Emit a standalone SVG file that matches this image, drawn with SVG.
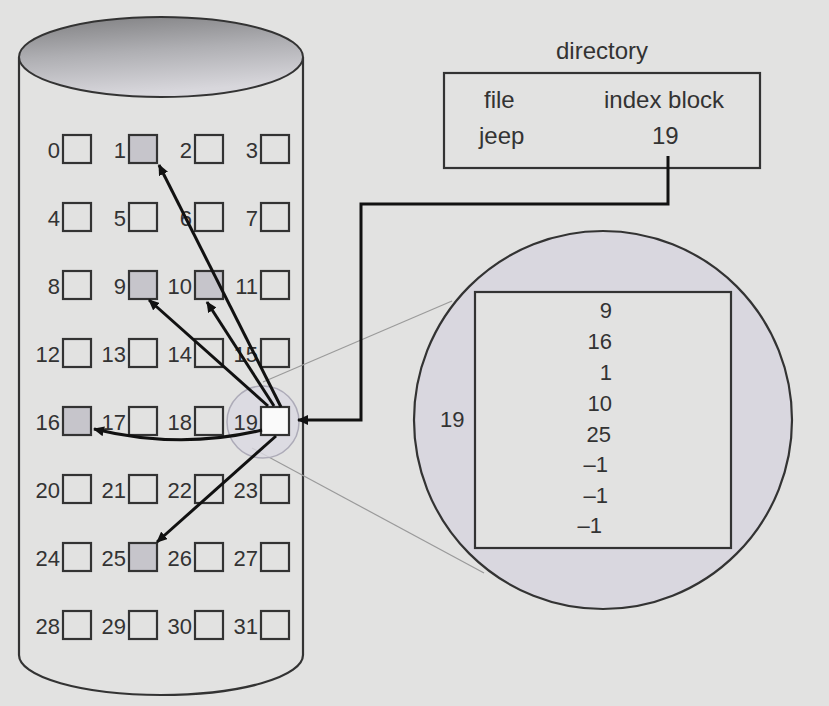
<svg xmlns="http://www.w3.org/2000/svg" width="829" height="706" viewBox="0 0 829 706">
<style>
text{font-family:"Liberation Sans",Arial,sans-serif;fill:#333;}
.lbl{font-size:22px;text-anchor:end;}
.blk{fill:none;stroke:#333;stroke-width:2.2;}
.used{fill:#c6c5cb;stroke:#333;stroke-width:2.2;}
.arr{fill:none;stroke:#111;stroke-width:3;marker-end:url(#ah);}
.dir{font-size:24px;}
.idx{font-size:22px;text-anchor:end;}
.idl{font-size:22px;}
</style>
<defs>
<marker id="ah" markerWidth="12" markerHeight="10" refX="10" refY="5" orient="auto" markerUnits="userSpaceOnUse">
<path d="M0,0 L11,5 L0,10 Z" fill="#111"/>
</marker>
<linearGradient id="top" x1="0" y1="0" x2="0.25" y2="1">
<stop offset="0" stop-color="#7e7e80"/>
<stop offset="0.5" stop-color="#afafb3"/>
<stop offset="1" stop-color="#d8d7dc"/>
</linearGradient>
</defs>
<rect width="829" height="706" fill="#e2e2e1"/>

<g id="disk">
<path d="M19,57 L19,655 A142,40 0 0 0 303,655 L303,57" fill="#e2e2e1" stroke="#333" stroke-width="2.2"/>
<ellipse cx="161" cy="57" rx="142" ry="40" fill="url(#top)" stroke="#333" stroke-width="2"/>
</g>

<g id="zoom-lines">
<line x1="263" y1="382" x2="452" y2="301" stroke="#9a9a9a" stroke-width="1.2"/>
<line x1="252" y1="448" x2="484" y2="573" stroke="#9a9a9a" stroke-width="1.2"/>
</g>

<g id="lens">
<circle cx="263" cy="422" r="36" fill="#dbd9e2" fill-opacity="0.8" stroke="#adabb8" stroke-width="1.5"/>
</g>

<g id="blocks">
<g id="b0"><text class="lbl" x="60" y="158">0</text><rect class="blk" x="63" y="135" width="28" height="28"/></g>
<g id="b1"><text class="lbl" x="126" y="158">1</text><rect class="used" x="129" y="135" width="28" height="28"/></g>
<g id="b2"><text class="lbl" x="192" y="158">2</text><rect class="blk" x="195" y="135" width="28" height="28"/></g>
<g id="b3"><text class="lbl" x="258" y="158">3</text><rect class="blk" x="261" y="135" width="28" height="28"/></g>
<g id="b4"><text class="lbl" x="60" y="226">4</text><rect class="blk" x="63" y="203" width="28" height="28"/></g>
<g id="b5"><text class="lbl" x="126" y="226">5</text><rect class="blk" x="129" y="203" width="28" height="28"/></g>
<g id="b6"><text class="lbl" x="192" y="226">6</text><rect class="blk" x="195" y="203" width="28" height="28"/></g>
<g id="b7"><text class="lbl" x="258" y="226">7</text><rect class="blk" x="261" y="203" width="28" height="28"/></g>
<g id="b8"><text class="lbl" x="60" y="294">8</text><rect class="blk" x="63" y="271" width="28" height="28"/></g>
<g id="b9"><text class="lbl" x="126" y="294">9</text><rect class="used" x="129" y="271" width="28" height="28"/></g>
<g id="b10"><text class="lbl" x="192" y="294">10</text><rect class="used" x="195" y="271" width="28" height="28"/></g>
<g id="b11"><text class="lbl" x="258" y="294">11</text><rect class="blk" x="261" y="271" width="28" height="28"/></g>
<g id="b12"><text class="lbl" x="60" y="362">12</text><rect class="blk" x="63" y="339" width="28" height="28"/></g>
<g id="b13"><text class="lbl" x="126" y="362">13</text><rect class="blk" x="129" y="339" width="28" height="28"/></g>
<g id="b14"><text class="lbl" x="192" y="362">14</text><rect class="blk" x="195" y="339" width="28" height="28"/></g>
<g id="b15"><text class="lbl" x="258" y="362">15</text><rect class="blk" x="261" y="339" width="28" height="28"/></g>
<g id="b16"><text class="lbl" x="60" y="430">16</text><rect class="used" x="63" y="407" width="28" height="28"/></g>
<g id="b17"><text class="lbl" x="126" y="430">17</text><rect class="blk" x="129" y="407" width="28" height="28"/></g>
<g id="b18"><text class="lbl" x="192" y="430">18</text><rect class="blk" x="195" y="407" width="28" height="28"/></g>
<g id="b19"><text class="lbl" x="258" y="430">19</text><rect x="261" y="407" width="28" height="28" fill="#fafafa" stroke="#333" stroke-width="2.2"/></g>
<g id="b20"><text class="lbl" x="60" y="498">20</text><rect class="blk" x="63" y="475" width="28" height="28"/></g>
<g id="b21"><text class="lbl" x="126" y="498">21</text><rect class="blk" x="129" y="475" width="28" height="28"/></g>
<g id="b22"><text class="lbl" x="192" y="498">22</text><rect class="blk" x="195" y="475" width="28" height="28"/></g>
<g id="b23"><text class="lbl" x="258" y="498">23</text><rect class="blk" x="261" y="475" width="28" height="28"/></g>
<g id="b24"><text class="lbl" x="60" y="566">24</text><rect class="blk" x="63" y="543" width="28" height="28"/></g>
<g id="b25"><text class="lbl" x="126" y="566">25</text><rect class="used" x="129" y="543" width="28" height="28"/></g>
<g id="b26"><text class="lbl" x="192" y="566">26</text><rect class="blk" x="195" y="543" width="28" height="28"/></g>
<g id="b27"><text class="lbl" x="258" y="566">27</text><rect class="blk" x="261" y="543" width="28" height="28"/></g>
<g id="b28"><text class="lbl" x="60" y="634">28</text><rect class="blk" x="63" y="611" width="28" height="28"/></g>
<g id="b29"><text class="lbl" x="126" y="634">29</text><rect class="blk" x="129" y="611" width="28" height="28"/></g>
<g id="b30"><text class="lbl" x="192" y="634">30</text><rect class="blk" x="195" y="611" width="28" height="28"/></g>
<g id="b31"><text class="lbl" x="258" y="634">31</text><rect class="blk" x="261" y="611" width="28" height="28"/></g>
</g>

<g id="directory">
<text class="dir" x="602" y="59" text-anchor="middle">directory</text>
<rect x="444" y="73" width="316" height="95" fill="none" stroke="#333" stroke-width="2.2"/>
<text class="dir" x="484" y="108">file</text>
<text class="dir" x="604" y="108">index block</text>
<text class="dir" x="479" y="144">jeep</text>
<text class="dir" x="652" y="144">19</text>
</g>

<g id="index-block">
<circle cx="603" cy="420" r="189" fill="#d9d7df" stroke="#333" stroke-width="2.2"/>
<rect x="475" y="292" width="256" height="256" fill="#e2e2e1" stroke="#333" stroke-width="2.2"/>
<text class="idl" x="440" y="427">19</text>
<text class="idx" x="612" y="318">9</text>
<text class="idx" x="612" y="349">16</text>
<text class="idx" x="612" y="380">1</text>
<text class="idx" x="612" y="411">10</text>
<text class="idx" x="611" y="442">25</text>
<text class="idx" x="608" y="472">–1</text>
<text class="idx" x="608" y="503">–1</text>
<text class="idx" x="602" y="533">–1</text>
</g>

<g id="connectors">
<path class="arr" d="M668,156 L668,204 L361,204 L361,420 L298,420"/>
<path class="arr" d="M281,407 L159,165"/>
<path class="arr" d="M268,406 L149,300"/>
<path class="arr" d="M274,406 L207,302"/>
<path class="arr" d="M262,430 Q180,450 94,429"/>
<path class="arr" d="M276,436 L157,542"/>
</g>
</svg>
